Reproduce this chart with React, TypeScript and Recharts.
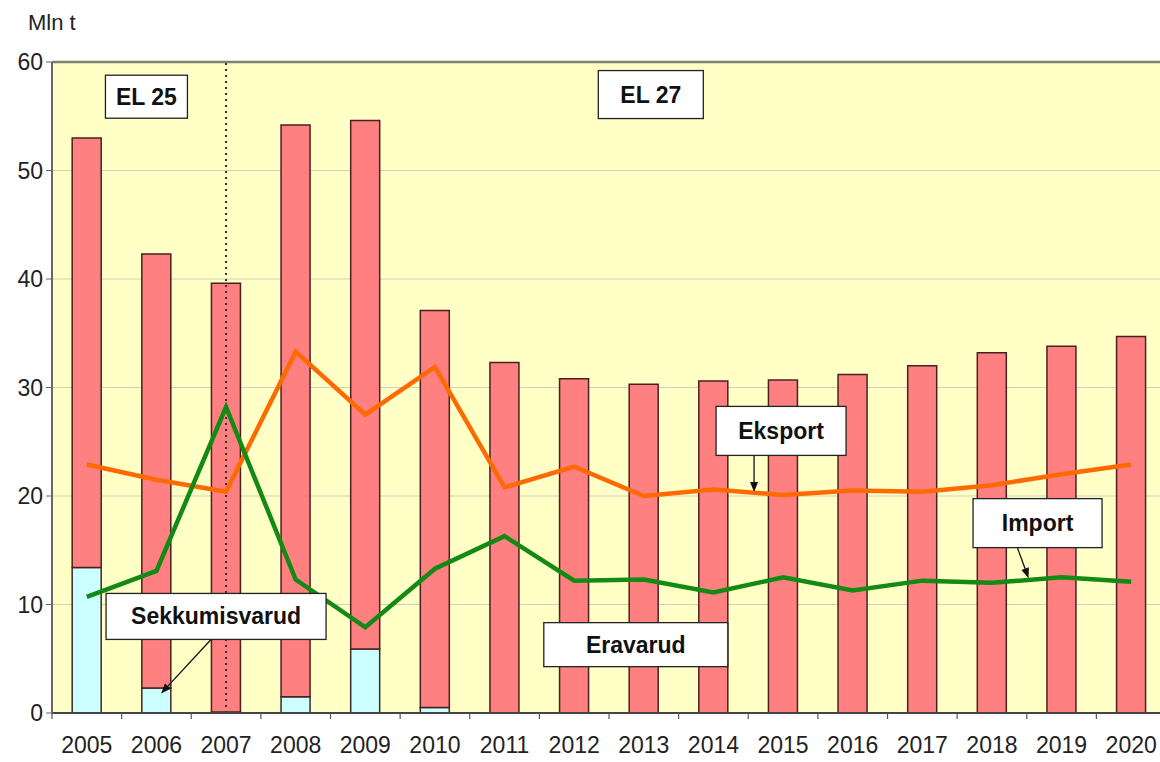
import React from 'react';
import { ComposedChart, Bar, Line, XAxis, YAxis, CartesianGrid, ReferenceLine, ReferenceDot } from 'recharts';

const years = ['2005', '2006', '2007', '2008', '2009', '2010', '2011', '2012', '2013', '2014', '2015', '2016', '2017', '2018', '2019', '2020'];
// interventional stocks (light blue, bottom of stack)
const sekkumisvarud = [13.4, 2.3, 0.1, 1.5, 5.9, 0.5, 0, 0, 0, 0, 0, 0, 0, 0, 0, 0];
// private stocks (red, stacked on top)
const eravarud = [39.6, 40.0, 39.5, 52.7, 48.7, 36.6, 32.3, 30.8, 30.3, 30.6, 30.7, 31.2, 32.0, 33.2, 33.8, 34.7];
const eksport = [22.9, 21.5, 20.4, 33.3, 27.5, 31.9, 20.8, 22.7, 20.0, 20.6, 20.1, 20.5, 20.4, 21.0, 22.0, 22.9];
const importData = [10.7, 13.1, 28.2, 12.3, 7.9, 13.3, 16.3, 12.2, 12.3, 11.1, 12.5, 11.3, 12.2, 12.0, 12.5, 12.1];
const yTicks = [0, 10, 20, 30, 40, 50, 60];

const chartData = years.map((year, i) => ({
  year,
  sekkumisvarud: sekkumisvarud[i],
  eravarud: eravarud[i],
  eksport: eksport[i],
  import: importData[i],
}));

const W = 1170;
const H = 762;
const Y_AXIS_W = 52;
const RIGHT = 4;
const bandW = (W - Y_AXIS_W - RIGHT) / years.length;

const FONT = '"Liberation Sans", Arial, sans-serif';

// callout boxes, anchored on a category/value, offsets in px
const callouts = [
  { text: 'EL 25', x: '2006', y: 56.8, dx: -10, w: 82, h: 43 },
  { text: 'EL 27', x: '2013', y: 57.0, dx: 7, w: 105, h: 48 },
  { text: 'Eksport', x: '2015', y: 26.0, dx: -2, w: 130, h: 49, arrow: [-27, 25, -27, 61] },
  { text: 'Import', x: '2019', y: 17.5, dx: -24, w: 129, h: 49, arrow: [-20, 25, -9, 55] },
  { text: 'Sekkumisvarud', x: '2007', y: 8.9, dx: -10, w: 220, h: 46, arrow: [-5, 23, -55, 77] },
  { text: 'Eravarud', x: '2013', y: 6.3, dx: -8, w: 184, h: 44 },
];

type Callout = typeof callouts[number];

const calloutShape = (c: Callout) => (props: any) => {
  const cx = props.cx + c.dx;
  const cy = props.cy;
  let arrow = null;
  if (c.arrow) {
    const [x1, y1, x2, y2] = c.arrow;
    const ax1 = cx + x1, ay1 = cy + y1, ax2 = cx + x2, ay2 = cy + y2;
    const len = Math.hypot(ax2 - ax1, ay2 - ay1);
    const ux = (ax2 - ax1) / len, uy = (ay2 - ay1) / len;
    const hx = ax2 - ux * 10, hy = ay2 - uy * 10;
    arrow = (
      <g>
        <line x1={ax1} y1={ay1} x2={hx} y2={hy} stroke="#111" strokeWidth={1.3} />
        <polygon
          points={`${ax2},${ay2} ${hx - uy * 4},${hy + ux * 4} ${hx + uy * 4},${hy - ux * 4}`}
          fill="#111"
        />
      </g>
    );
  }
  return (
    <g>
      <rect x={cx - c.w / 2} y={cy - c.h / 2} width={c.w} height={c.h} fill="#fff" stroke="#222" strokeWidth={1.3} />
      <text x={cx} y={cy} textAnchor="middle" dominantBaseline="central" fontFamily={FONT} fontWeight="bold" fontSize={23} fill="#111">
        {c.text}
      </text>
      {arrow}
    </g>
  );
};

const XTick = (props: any) => {
  const { x, y, payload } = props;
  const lx = x - bandW / 2;
  return (
    <g>
      <line x1={lx} x2={lx} y1={y} y2={y + 6} stroke="#555" strokeWidth={1.2} />
      <text x={x} y={y + 40} textAnchor="middle" fontFamily={FONT} fontSize={23} fill="#222">
        {payload.value}
      </text>
    </g>
  );
};

export default function App() {
  return (
    <div style={{ position: 'absolute', left: 0, top: 0, width: 1160, height: 762, overflow: 'hidden', background: '#fff' }}>
      <div style={{ position: 'absolute', left: 28, top: 10, fontFamily: FONT, fontSize: 22, color: '#222' }}>Mln t</div>
      <ComposedChart
        width={W}
        height={H}
        data={chartData}
        margin={{ top: 62, right: RIGHT, left: 0, bottom: 0 }}
        barCategoryGap="29%"
      >
        <CartesianGrid vertical={false} stroke="#cfcfbd" fill="#FFFFC6" fillOpacity={1} />
        <XAxis
          dataKey="year"
          height={49}
          interval={0}
          tickSize={0}
          tickMargin={0}
          tickLine={false}
          axisLine={{ stroke: '#444', strokeWidth: 2 }}
          tick={<XTick />}
        />
        <YAxis
          width={Y_AXIS_W}
          domain={[0, 60]}
          ticks={yTicks}
          tickSize={6}
          tickMargin={3}
          axisLine={{ stroke: '#666', strokeWidth: 2 }}
          tickLine={{ stroke: '#666' }}
          tick={{ fontSize: 23, fill: '#222', fontFamily: FONT }}
        />
        <Bar dataKey="sekkumisvarud" stackId="s" fill="#CCFFFF" stroke="#3b2a2a" strokeWidth={1.5} isAnimationActive={false} />
        <Bar dataKey="eravarud" stackId="s" fill="#FF8080" stroke="#4a1f1f" strokeWidth={1.5} isAnimationActive={false} />
        <ReferenceLine y={60} stroke="#808070" strokeWidth={2.5} />
        <ReferenceLine x="2007" stroke="#333" strokeWidth={2} strokeDasharray="2 4" />
        <Line dataKey="eksport" type="linear" stroke="#FF6A00" strokeWidth={4.5} dot={false} isAnimationActive={false} />
        <Line dataKey="import" type="linear" stroke="#138A13" strokeWidth={4.5} dot={false} isAnimationActive={false} />
        {callouts.map((c) => (
          <ReferenceDot key={c.text} x={c.x} y={c.y} r={0} shape={calloutShape(c)} />
        ))}
      </ComposedChart>
    </div>
  );
}
